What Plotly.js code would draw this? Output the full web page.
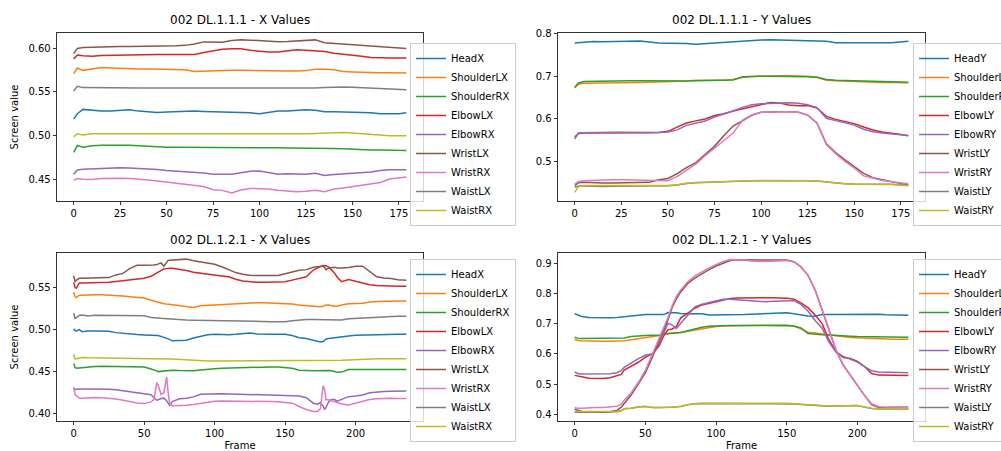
<!DOCTYPE html>
<html><head><meta charset="utf-8">
<script src="https://cdn.plot.ly/plotly-3.0.1.min.js"></script>
<style>html,body{margin:0;padding:0;background:#fff}#chart{width:1001px;height:451px}</style>
</head><body><div id="chart"></div>
<script>
// ---------- DATA ----------
const titles = ["002 DL.1.1.1 - X Values","002 DL.1.1.1 - Y Values","002 DL.1.2.1 - X Values","002 DL.1.2.1 - Y Values"];
const namesX = ["HeadX","ShoulderLX","ShoulderRX","ElbowLX","ElbowRX","WristLX","WristRX","WaistLX","WaistRX"];
const namesY = ["HeadY","ShoulderLY","ShoulderRY","ElbowLY","ElbowRY","WristLY","WristRY","WaistLY","WaistRY"];
const colors = ["#1f77b4","#ff7f0e","#2ca02c","#d62728","#9467bd","#8c564b","#e377c2","#7f7f7f","#bcbd22"];

// Clip 002 DL.1.1.1 (frames 0-179)
const framesA = [0,2,5,10,15,20,25,30,35,40,45,50,55,60,65,70,75,80,85,90,95,100,105,110,115,120,125,130,135,140,145,150,155,160,165,170,175,179];
const headX_A = [0.519,0.525,0.530,0.5288,0.528,0.528,0.5285,0.5295,0.528,0.527, 0.5265,0.527,0.5273,0.5278,0.528,0.5275,0.5273,0.5273,0.5268,0.5265, 0.526,0.525,0.5265,0.528,0.528,0.5285,0.5295,0.529,0.5273,0.5273, 0.5273,0.527,0.5265,0.526,0.525,0.525,0.525,0.5262];
const shoulderLX_A = [0.571,0.5775,0.5748,0.5765,0.578,0.5775,0.577,0.5768,0.5765,0.5765, 0.5763,0.576,0.5758,0.5755,0.5735,0.574,0.5745,0.5748,0.5748,0.5748, 0.5745,0.5742,0.574,0.574,0.574,0.574,0.5745,0.576,0.5762,0.5755, 0.5735,0.573,0.5725,0.5722,0.572,0.572,0.5718,0.5717];
const shoulderRX_A = [0.4806,0.4885,0.4865,0.4883,0.4887,0.489,0.489,0.4888,0.4882,0.4875, 0.4868,0.4866,0.4866,0.4866,0.4865,0.4862,0.486,0.486,0.4862,0.4866, 0.4866,0.486,0.486,0.4858,0.4856,0.4856,0.4858,0.486,0.4856,0.4852, 0.4848,0.4842,0.4838,0.4835,0.4833,0.4832,0.483,0.4829];
const elbowLX_A = [0.588,0.5925,0.5915,0.591,0.592,0.5923,0.5925,0.5925,0.5928,0.593, 0.593,0.593,0.593,0.593,0.593,0.5952,0.597,0.599,0.5995,0.5995, 0.5978,0.5965,0.596,0.596,0.597,0.5985,0.598,0.597,0.5965,0.5945, 0.5935,0.5925,0.591,0.5895,0.589,0.589,0.589,0.589];
const elbowRX_A = [0.4555,0.4605,0.4612,0.4618,0.4626,0.463,0.463,0.4626,0.4622,0.462, 0.461,0.4598,0.459,0.4588,0.458,0.457,0.4555,0.4554,0.4556,0.4572, 0.459,0.4592,0.457,0.4554,0.456,0.4558,0.4556,0.4566,0.454,0.4552, 0.456,0.4565,0.4568,0.458,0.4598,0.4607,0.4607,0.4607];
const wristLX_A = [0.594,0.600,0.601,0.6015,0.602,0.602,0.6023,0.6023,0.6023,0.6023, 0.6023,0.6025,0.603,0.6035,0.605,0.6075,0.607,0.607,0.609,0.610, 0.6095,0.609,0.6077,0.6077,0.608,0.6088,0.6095,0.6098,0.6065,0.6058, 0.6055,0.6048,0.604,0.603,0.602,0.6012,0.6005,0.600];
const wristRX_A = [0.4485,0.4505,0.4498,0.4495,0.4505,0.4508,0.4508,0.4505,0.45,0.449, 0.4478,0.4465,0.4452,0.444,0.4428,0.4415,0.4378,0.437,0.434,0.4375, 0.4392,0.439,0.4386,0.4372,0.436,0.4355,0.436,0.437,0.4355,0.4385, 0.4398,0.4413,0.4432,0.4447,0.446,0.45,0.4512,0.4523];
const waistLX_A = [0.551,0.5565,0.555,0.5548,0.5546,0.5546,0.5546,0.5545,0.5545,0.5545, 0.5543,0.5543,0.5545,0.5546,0.5546,0.5546,0.5546,0.5546,0.5545,0.5543, 0.5542,0.5541,0.5541,0.5541,0.5541,0.5542,0.5543,0.5545,0.555,0.5555, 0.5556,0.5555,0.555,0.5543,0.5535,0.553,0.5527,0.5525];
const waistRX_A = [0.4985,0.502,0.5005,0.502,0.502,0.502,0.502,0.502,0.502,0.502, 0.502,0.5022,0.5023,0.5025,0.5027,0.5028,0.5026,0.5024,0.5022,0.502, 0.502,0.5019,0.5018,0.5018,0.5018,0.502,0.502,0.5022,0.5025,0.5033, 0.5035,0.503,0.5022,0.501,0.5005,0.4998,0.4998,0.4998];

const headY_A = [0.777,0.778,0.7795,0.7805,0.7803,0.7805,0.781,0.782,0.782,0.7795, 0.777,0.7768,0.7768,0.776,0.774,0.7755,0.777,0.7785,0.7805,0.782, 0.7835,0.7842,0.7845,0.784,0.783,0.782,0.7815,0.7805,0.781,0.7775, 0.7772,0.7772,0.7772,0.7775,0.7775,0.778,0.7795,0.7815];
const shoulderLY_A = [0.672,0.681,0.6835,0.6835,0.6835,0.6835,0.684,0.6845,0.685,0.6855, 0.686,0.6865,0.687,0.6885,0.6905,0.6905,0.69,0.6905,0.692,0.6965, 0.699,0.700,0.7005,0.701,0.7005,0.7,0.6995,0.697,0.6905,0.689, 0.688,0.687,0.686,0.6855,0.685,0.685,0.685,0.6845];
const shoulderRY_A = [0.674,0.684,0.6875,0.688,0.6885,0.689,0.689,0.689,0.6888,0.6885, 0.688,0.688,0.688,0.6885,0.6888,0.689,0.6895,0.6898,0.691,0.6985, 0.6995,0.6995,0.6995,0.6995,0.6995,0.6992,0.6985,0.697,0.692,0.6905, 0.6898,0.689,0.688,0.687,0.6865,0.6865,0.686,0.6855];
const elbowLY_A = [0.558,0.566,0.567,0.567,0.5665,0.566,0.566,0.5665,0.567,0.5675, 0.5685,0.571,0.581,0.5905,0.5955,0.600,0.608,0.612,0.6185,0.6235, 0.6285,0.6335,0.6385,0.637,0.6325,0.631,0.6315,0.6255,0.606,0.599, 0.5935,0.589,0.581,0.574,0.5695,0.567,0.5635,0.5605];
const elbowRY_A = [0.553,0.567,0.5675,0.5685,0.5688,0.569,0.569,0.5688,0.568,0.5678, 0.5685,0.5695,0.5745,0.585,0.5905,0.595,0.6045,0.611,0.6185,0.627, 0.633,0.6355,0.6365,0.637,0.6375,0.6365,0.633,0.6265,0.6015,0.596, 0.5915,0.5855,0.576,0.570,0.567,0.5655,0.563,0.5615];
const wristLY_A = [0.445,0.451,0.4525,0.451,0.4505,0.4503,0.4505,0.4505,0.4505,0.452, 0.458,0.461,0.4725,0.4865,0.498,0.517,0.536,0.561,0.5835,0.5955, 0.6085,0.6155,0.617,0.617,0.617,0.6155,0.609,0.5905,0.542,0.5215, 0.5045,0.4885,0.473,0.463,0.458,0.454,0.4495,0.4455];
const wristRY_A = [0.448,0.4535,0.456,0.457,0.458,0.4582,0.4582,0.4578,0.457,0.4555, 0.455,0.4555,0.466,0.481,0.4945,0.514,0.532,0.551,0.567,0.5967, 0.6095,0.6155,0.617,0.617,0.617,0.6155,0.6085,0.59,0.540,0.519, 0.501,0.4855,0.467,0.461,0.4565,0.4535,0.4505,0.4485];
const waistLY_A = [0.4405,0.4435,0.4435,0.4425,0.4425,0.4428,0.443,0.443,0.4432,0.4435, 0.4438,0.444,0.446,0.4495,0.451,0.452,0.4532,0.4535,0.4545,0.455, 0.4558,0.456,0.4562,0.4565,0.4565,0.4565,0.456,0.455,0.4525,0.4505, 0.449,0.448,0.4475,0.4475,0.4478,0.4478,0.4465,0.4455];
const waistRY_A = [0.4285,0.442,0.4445,0.4442,0.444,0.4443,0.4445,0.4445,0.4445,0.4445, 0.4445,0.4445,0.4465,0.45,0.4515,0.4525,0.4535,0.454,0.4548,0.4552, 0.456,0.4562,0.4565,0.4565,0.4565,0.4565,0.456,0.455,0.4525,0.4505, 0.449,0.4478,0.4472,0.4472,0.4472,0.4472,0.446,0.444];

// Clip 002 DL.1.2.1 X (frames 0-236)
const framesBX = [0,1,2,4,6,10,15,20,25,30, 35,40,45,50,55,57,59,60,62,64, 66,67,68,70,75,80,85,90,95,100, 105,110,115,120,125,130,135,140,145,150, 155,160,165,170,173,175,177,178,179,181, 183,185,187,190,195,200,205,210,215,220, 225,230,236];
const headX_B = [0.5005,0.4985,0.498,0.4995,0.4972,0.498,0.498,0.4978,0.4975,0.496, 0.495,0.4945,0.4938,0.4933,0.4932,0.4932,0.493,0.4925,0.4915,0.4905, 0.489,0.4885,0.488,0.4862,0.4865,0.487,0.4895,0.4915,0.4935,0.494, 0.4935,0.4935,0.494,0.4945,0.4955,0.4945,0.494,0.494,0.494,0.494, 0.4925,0.490,0.489,0.487,0.486,0.4848,0.4855,0.487,0.4885,0.489, 0.4895,0.490,0.4908,0.4915,0.492,0.493,0.4933,0.4935,0.4937,0.4938, 0.494,0.494,0.494];
const shoulderLX_B = [0.544,0.539,0.5377,0.5405,0.5405,0.541,0.5412,0.541,0.5408,0.5402, 0.5395,0.5388,0.538,0.5372,0.5345,0.5335,0.5325,0.532,0.531,0.5305, 0.53,0.5298,0.5298,0.5295,0.528,0.527,0.526,0.528,0.5285,0.529, 0.5295,0.530,0.5305,0.5312,0.5315,0.5315,0.5315,0.5313,0.5312,0.531, 0.5302,0.5288,0.528,0.5268,0.5265,0.5268,0.5275,0.528,0.529,0.529, 0.528,0.5275,0.5275,0.529,0.5305,0.5308,0.531,0.5325,0.5332,0.5333, 0.5335,0.5337,0.5337];
const shoulderRX_B = [0.4592,0.4545,0.4536,0.454,0.4545,0.4552,0.4558,0.456,0.4558,0.4555, 0.4552,0.4552,0.4552,0.455,0.4528,0.452,0.4505,0.4496,0.4498,0.45, 0.4505,0.4508,0.451,0.4512,0.4508,0.4505,0.4505,0.4515,0.4525,0.453, 0.4535,0.4538,0.4542,0.4545,0.4548,0.455,0.4552,0.4552,0.455,0.4545, 0.4535,0.4512,0.4505,0.4505,0.4505,0.4508,0.451,0.451,0.451,0.451, 0.4505,0.4495,0.4488,0.449,0.452,0.4522,0.4522,0.4522,0.4522,0.4522, 0.4522,0.4522,0.4522];
const elbowLX_B = [0.556,0.5496,0.549,0.5552,0.5552,0.5552,0.5555,0.5558,0.556,0.557, 0.558,0.559,0.5598,0.5607,0.5631,0.565,0.5675,0.5687,0.570,0.5718, 0.5722,0.5726,0.5726,0.5726,0.5715,0.570,0.568,0.5667,0.5655,0.5647, 0.5635,0.5625,0.5595,0.5575,0.5565,0.556,0.556,0.556,0.556,0.5565, 0.5585,0.5605,0.5625,0.5705,0.5734,0.5745,0.5758,0.5758,0.5755,0.574, 0.571,0.5671,0.562,0.5567,0.5591,0.557,0.5545,0.553,0.552,0.5515, 0.5512,0.5512,0.5512];
const elbowRX_B = [0.4306,0.4282,0.4285,0.429,0.429,0.429,0.429,0.4288,0.4285,0.428, 0.4268,0.4258,0.4245,0.4232,0.422,0.4185,0.4155,0.416,0.4175,0.418, 0.415,0.412,0.4095,0.414,0.4172,0.4178,0.4195,0.4226,0.423,0.4234, 0.4232,0.423,0.4228,0.4226,0.4225,0.4224,0.4222,0.4222,0.422,0.4218, 0.421,0.4205,0.4185,0.412,0.4107,0.4125,0.4085,0.4044,0.407,0.414, 0.4163,0.4163,0.4145,0.4165,0.4198,0.4205,0.4218,0.4245,0.4255,0.426, 0.4263,0.4265,0.4266];
const wristLX_B = [0.5639,0.5567,0.5585,0.5607,0.5607,0.5607,0.5608,0.561,0.5615,0.5647, 0.5665,0.5725,0.5762,0.5762,0.576,0.5765,0.577,0.5775,0.579,0.575, 0.5795,0.582,0.5823,0.5825,0.5828,0.5835,0.5815,0.5803,0.5795,0.5775, 0.5745,0.5712,0.5675,0.5655,0.5642,0.5639,0.5639,0.5639,0.5639,0.566, 0.5685,0.5702,0.571,0.5738,0.5745,0.575,0.5752,0.5735,0.571,0.573, 0.5738,0.5738,0.573,0.5728,0.5735,0.575,0.575,0.5685,0.5625,0.561, 0.5605,0.559,0.5583];
const wristRX_B = [0.4306,0.4226,0.421,0.4179,0.418,0.4185,0.4187,0.4185,0.418,0.417, 0.4155,0.4138,0.4123,0.4115,0.4135,0.4163,0.4365,0.433,0.4226,0.4245, 0.4432,0.425,0.412,0.4091,0.4091,0.4095,0.4105,0.4118,0.413,0.4142, 0.4147,0.4147,0.4147,0.4145,0.4143,0.4142,0.414,0.4139,0.4136,0.413, 0.412,0.408,0.4045,0.402,0.4022,0.4052,0.4329,0.428,0.416,0.416, 0.415,0.4138,0.413,0.411,0.4099,0.412,0.414,0.4163,0.4172,0.4179, 0.418,0.4175,0.4175];
const waistLX_B = [0.5194,0.5131,0.514,0.5165,0.5171,0.5157,0.5168,0.5168,0.5166,0.5165, 0.5164,0.5164,0.5163,0.516,0.514,0.5135,0.5132,0.5131,0.513,0.5128, 0.5125,0.5123,0.5122,0.512,0.5115,0.511,0.5107,0.5105,0.5102,0.5099, 0.5098,0.5096,0.5094,0.5092,0.5092,0.5091,0.5091,0.5091,0.5091,0.5091, 0.51,0.511,0.5115,0.5115,0.5113,0.5112,0.5112,0.5112,0.5112,0.5112, 0.511,0.511,0.5108,0.511,0.5125,0.513,0.5135,0.514,0.5148,0.515, 0.5153,0.5155,0.5155];
const waistRX_B = [0.4702,0.4647,0.465,0.466,0.4663,0.466,0.4658,0.4656,0.4655,0.4653, 0.4652,0.465,0.465,0.4648,0.4647,0.4647,0.4647,0.4647,0.4646,0.4646, 0.4645,0.4645,0.4645,0.4645,0.464,0.4635,0.4628,0.4623,0.4623,0.4623, 0.4623,0.4623,0.4623,0.4623,0.4623,0.4623,0.4623,0.4623,0.4623,0.4623, 0.4623,0.4623,0.4623,0.4625,0.4625,0.4626,0.4626,0.4626,0.4626,0.4626, 0.4627,0.4627,0.4627,0.463,0.4635,0.464,0.4645,0.4647,0.4648,0.4648, 0.4648,0.4648,0.4648];

// Clip 002 DL.1.2.1 Y (frames 0-236)
const framesBY = [0,2,5,10,15,20,25,30,33,35, 40,45,50,55,60,63,66,69,72,75, 80,85,90,95,100,105,110,115,120,125, 130,135,140,145,150,155,160,165,170,175, 180,185,190,195,200,205,210,215,220,225, 230,236];
const headY_B = [0.7326,0.7295,0.724,0.7205,0.7195,0.7193,0.7193,0.7205,0.722,0.7237, 0.7255,0.728,0.7304,0.730,0.7295,0.730,0.737,0.7375,0.736,0.734, 0.732,0.7326,0.733,0.7285,0.7285,0.7288,0.729,0.7295,0.7304,0.7315, 0.732,0.7326,0.733,0.7355,0.736,0.7325,0.729,0.7255,0.7245,0.7304, 0.7306,0.7308,0.731,0.7318,0.732,0.7322,0.7322,0.731,0.7295,0.7285, 0.7283,0.7282];
const shoulderLY_B = [0.6483,0.645,0.643,0.6418,0.6417,0.6417,0.6418,0.642,0.6425,0.643, 0.6465,0.6505,0.6535,0.656,0.661,0.6655,0.6675,0.6685,0.6695,0.6705, 0.675,0.6795,0.684,0.688,0.6905,0.692,0.693,0.694,0.695,0.695, 0.695,0.6948,0.6945,0.6945,0.6945,0.692,0.683,0.6715,0.669,0.666, 0.664,0.6595,0.656,0.6545,0.6535,0.652,0.6505,0.6495,0.649,0.6485, 0.6483,0.6483];
const shoulderRY_B = [0.655,0.652,0.6505,0.6505,0.6505,0.6505,0.6505,0.651,0.652,0.6527, 0.6575,0.6598,0.661,0.6615,0.6625,0.666,0.667,0.6685,0.6695,0.6705, 0.6765,0.682,0.6883,0.691,0.6927,0.6932,0.6935,0.6935,0.6935,0.6935, 0.6938,0.694,0.6949,0.695,0.6945,0.692,0.6855,0.667,0.6645,0.6635, 0.6625,0.661,0.658,0.6585,0.6575,0.657,0.6565,0.656,0.6555,0.6552, 0.655,0.655];
const elbowLY_B = [0.5286,0.526,0.524,0.519,0.5175,0.518,0.521,0.5264,0.532,0.5463, 0.559,0.572,0.589,0.5995,0.628,0.66,0.6795,0.6825,0.6906,0.7193, 0.7348,0.751,0.762,0.7675,0.772,0.779,0.783,0.785,0.7858,0.786, 0.786,0.786,0.786,0.7858,0.7845,0.781,0.769,0.753,0.729,0.70, 0.645,0.6062,0.588,0.5845,0.5745,0.558,0.535,0.5295,0.5288,0.5286, 0.5286,0.5286];
const elbowRY_B = [0.5397,0.535,0.533,0.533,0.533,0.533,0.534,0.5375,0.545,0.5552, 0.571,0.584,0.595,0.60,0.6345,0.6685,0.7016,0.695,0.684,0.7016, 0.7304,0.7555,0.7645,0.769,0.775,0.7805,0.781,0.779,0.778,0.775, 0.7725,0.7725,0.774,0.775,0.776,0.776,0.7637,0.742,0.7105,0.685, 0.638,0.6045,0.5915,0.583,0.5725,0.5575,0.544,0.5395,0.5385,0.538, 0.5375,0.5375];
const wristLY_B = [0.4176,0.413,0.409,0.4066,0.4066,0.4068,0.408,0.4133,0.4235,0.4355, 0.4643,0.5,0.538,0.59,0.645,0.678,0.713,0.7545,0.783,0.805, 0.833,0.851,0.8656,0.879,0.891,0.9,0.909,0.9115,0.9115,0.9115, 0.9115,0.9115,0.9115,0.911,0.9105,0.905,0.888,0.861,0.812,0.7459, 0.6795,0.6107,0.562,0.528,0.4955,0.4625,0.432,0.4225,0.421,0.4205, 0.4202,0.420];
const wristRY_B = [0.4222,0.42,0.42,0.4222,0.4222,0.4225,0.4235,0.4266,0.4333,0.4466, 0.471,0.505,0.545,0.60,0.653,0.69,0.72,0.76,0.79,0.812, 0.8385,0.858,0.8723,0.8845,0.8955,0.906,0.9122,0.912,0.911,0.9075, 0.9055,0.906,0.907,0.9085,0.9095,0.905,0.888,0.86,0.812,0.7459, 0.6795,0.6107,0.562,0.528,0.4955,0.4625,0.4345,0.4245,0.4235,0.4245, 0.4246,0.4246];
const waistLY_B = [0.4067,0.4065,0.4065,0.4067,0.4068,0.407,0.4075,0.4085,0.411,0.4178, 0.4195,0.424,0.4255,0.4222,0.4222,0.422,0.4222,0.4232,0.4244,0.4255, 0.431,0.4345,0.4355,0.4352,0.4348,0.4348,0.435,0.4355,0.4355,0.4355, 0.4352,0.435,0.435,0.4352,0.4355,0.434,0.432,0.431,0.429,0.4266, 0.4266,0.4272,0.4278,0.4285,0.4289,0.4235,0.419,0.4175,0.4175,0.4175, 0.4175,0.4175];
const waistRY_B = [0.411,0.409,0.409,0.4089,0.4089,0.409,0.4092,0.4095,0.412,0.4185, 0.42,0.425,0.4266,0.4225,0.4225,0.4222,0.4225,0.4235,0.4248,0.426, 0.4315,0.435,0.436,0.4358,0.4355,0.4355,0.4358,0.436,0.436,0.436, 0.4358,0.4358,0.436,0.436,0.4362,0.4345,0.4325,0.4315,0.4295,0.427, 0.427,0.4275,0.4282,0.429,0.4292,0.424,0.4195,0.418,0.4178,0.4178, 0.4178,0.4178];

// ---------- BUILD ----------
const panels = [
  {x: framesA,  ys: [headX_A,shoulderLX_A,shoulderRX_A,elbowLX_A,elbowRX_A,wristLX_A,wristRX_A,waistLX_A,waistRX_A], names: namesX, ax: "", leg: "legend"},
  {x: framesA,  ys: [headY_A,shoulderLY_A,shoulderRY_A,elbowLY_A,elbowRY_A,wristLY_A,wristRY_A,waistLY_A,waistRY_A], names: namesY, ax: "2", leg: "legend2"},
  {x: framesBX, ys: [headX_B,shoulderLX_B,shoulderRX_B,elbowLX_B,elbowRX_B,wristLX_B,wristRX_B,waistLX_B,waistRX_B], names: namesX, ax: "3", leg: "legend3"},
  {x: framesBY, ys: [headY_B,shoulderLY_B,shoulderRY_B,elbowLY_B,elbowRY_B,wristLY_B,wristRY_B,waistLY_B,waistRY_B], names: namesY, ax: "4", leg: "legend4"}
];
const traces = [];
panels.forEach(p => {
  p.ys.forEach((y, i) => {
    traces.push({type: "scatter", mode: "lines", x: p.x, y: y, name: p.names[i],
      line: {color: colors[i], width: 1.5}, xaxis: "x" + p.ax, yaxis: "y" + p.ax, legend: p.leg});
  });
});

const W = 1001, H = 451;
const colX = [[57/W, 423/W], [558/W, 925/W]];
const rowY = [[1 - 201/H, 1 - 33/H], [1 - 421/H, 1 - 253/H]];
function xax(dom, range, dtick, anchor, title) {
  const a = {domain: dom, range: range, dtick: dtick, tick0: 0, anchor: anchor, showgrid: false, zeroline: false,
    showline: true, mirror: true, linecolor: "#000", linewidth: 0.8, ticks: "outside", ticklen: 3.5, tickwidth: 0.8,
    tickcolor: "#000", tickfont: {size: 10, color: "#000"}};
  if (title) a.title = {text: title, font: {size: 10, color: "#000"}, standoff: 6};
  return a;
}
function yax(dom, range, dtick, fmt, anchor, title) {
  const a = {domain: dom, range: range, dtick: dtick, tick0: 0, tickformat: fmt, anchor: anchor, showgrid: false, zeroline: false,
    showline: true, mirror: true, linecolor: "#000", linewidth: 0.8, ticks: "outside", ticklen: 3.5, tickwidth: 0.8,
    tickcolor: "#000", tickfont: {size: 10, color: "#000"}};
  if (title) a.title = {text: title, font: {size: 10, color: "#000"}, standoff: 7};
  return a;
}
function leg(x, y) {
  return {x: x, y: y, xref: "paper", yref: "paper", xanchor: "left", yanchor: "top", bgcolor: "rgba(255,255,255,0.8)",
    bordercolor: "#cccccc", borderwidth: 1, font: {size: 10, color: "#000"}, itemwidth: 30, tracegroupgap: 0};
}
const titleAnn = (t, x, y) => ({text: t, x: x, y: y, xref: "paper", yref: "paper", xanchor: "center", yanchor: "middle",
  showarrow: false, font: {size: 12, color: "#000"}});

const layout = {
  width: W, height: H,
  margin: {l: 0, r: 0, t: 0, b: 0, autoexpand: false},
  paper_bgcolor: "#fff", plot_bgcolor: "#fff",
  font: {family: "DejaVu Sans", size: 10, color: "#000"},
  hovermode: false,
  xaxis:  xax(colX[0], [-8.95, 187.95], 25, "y"),
  yaxis:  yax(rowY[0], [0.4248, 0.6177], 0.05, ".2f", "x", "Screen value"),
  xaxis2: xax(colX[1], [-8.95, 187.95], 25, "y2"),
  yaxis2: yax(rowY[0], [0.4085, 0.8005], 0.1, ".1f", "x2"),
  xaxis3: xax(colX[0], [-11.8, 247.8], 50, "y3", "Frame"),
  yaxis3: yax(rowY[1], [0.3908, 0.5908], 0.05, ".2f", "x3", "Screen value"),
  xaxis4: xax(colX[1], [-11.8, 247.8], 50, "y4", "Frame"),
  yaxis4: yax(rowY[1], [0.3775, 0.934], 0.1, ".1f", "x4"),
  legend:  leg(410/W, 1 - 43/H),
  legend2: leg(913/W, 1 - 43/H),
  legend3: leg(410/W, 1 - 259/H),
  legend4: leg(913/W, 1 - 259/H),
  annotations: [
    titleAnn(titles[0], 240/W, 1 - 20.5/H),
    titleAnn(titles[1], 741/W, 1 - 20.5/H),
    titleAnn(titles[2], 240/W, 1 - 240/H),
    titleAnn(titles[3], 741/W, 1 - 240/H)
  ],
  showlegend: true
};
Plotly.newPlot("chart", traces, layout, {displayModeBar: false, staticPlot: true});
</script>
</body></html>
